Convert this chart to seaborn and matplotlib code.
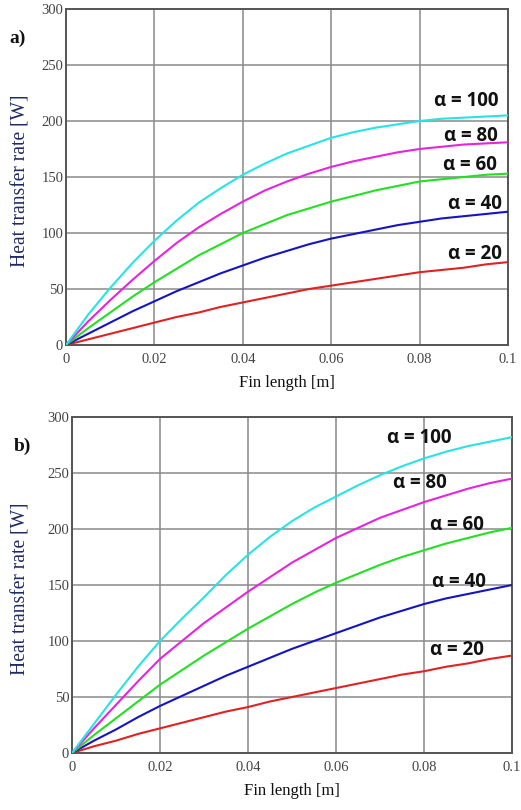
import matplotlib
matplotlib.use("Agg")
import matplotlib.pyplot as plt
import seaborn as sns
import pandas as pd

# ---- data ----
fin_length = [0.0, 0.005, 0.01, 0.015, 0.02, 0.025, 0.03, 0.035, 0.04, 0.045, 0.05,
              0.055, 0.06, 0.065, 0.07, 0.075, 0.08, 0.085, 0.09, 0.095, 0.10]
alphas = [100, 80, 60, 40, 20]

# panel a)
a_q100 = [0, 27, 51, 73, 93, 111, 127, 140, 152, 162, 171, 178, 185, 190, 194, 197, 200, 202, 203, 204, 205]
a_q80 = [0, 21, 40, 58, 75, 91, 105, 117, 128, 138, 146, 153, 159, 164, 168, 172, 175, 177, 179, 180, 181]
a_q60 = [0, 15, 29, 43, 56, 68, 80, 90, 100, 108, 116, 122, 128, 133, 138, 142, 146, 148, 150, 152, 153]
a_q40 = [0, 10, 20, 30, 39, 48, 56, 64, 71, 78, 84, 90, 95, 99, 103, 107, 110, 113, 115, 117, 119]
a_q20 = [0, 5, 10, 15, 20, 25, 29, 34, 38, 42, 46, 50, 53, 56, 59, 62, 65, 67, 69, 72, 74]

# panel b)
b_q100 = [0, 26, 52, 77, 100, 120, 139, 159, 177, 193, 207, 219, 229, 239, 248, 256, 263, 269, 274, 278, 282]
b_q80 = [0, 22, 43, 64, 84, 100, 116, 130, 144, 157, 170, 181, 192, 201, 210, 217, 224, 230, 236, 241, 245]
b_q60 = [0, 16, 31, 46, 61, 74, 87, 99, 111, 122, 133, 143, 152, 160, 168, 175, 181, 187, 192, 197, 201]
b_q40 = [0, 11, 21, 32, 42, 51, 60, 69, 77, 85, 93, 100, 107, 114, 121, 127, 133, 138, 142, 146, 150]
b_q20 = [0, 6, 11, 17, 22, 27, 32, 37, 41, 46, 50, 54, 58, 62, 66, 70, 73, 77, 80, 84, 87]

x_ticks = [0, 0.02, 0.04, 0.06, 0.08, 0.1]
x_tick_labels = ["0", "0.02", "0.04", "0.06", "0.08", "0.1"]
y_ticks = [0, 50, 100, 150, 200, 250, 300]
y_tick_labels = ["0", "50", "100", "150", "200", "250", "300"]

colors = {100: "#27e4e4", 80: "#e624e0", 60: "#22e022", 40: "#1414c4", 20: "#e02222"}

# label positions (x in m, y in W)
a_label_pos = {100: (0.0905, 218), 80: (0.0915, 187), 60: (0.0915, 161), 40: (0.0925, 126), 20: (0.0925, 81)}
b_label_pos = {100: (0.079, 281), 80: (0.079, 241), 60: (0.0875, 204), 40: (0.088, 153), 20: (0.0875, 92)}

sns.set_theme(style="white")
plt.rcParams["font.family"] = ["Liberation Serif", "DejaVu Serif"]

fig = plt.figure(figsize=(5.21, 8.10), dpi=100)
ax_a = fig.add_axes([66 / 521, 1 - 345 / 810, (508 - 66) / 521, (345 - 9) / 810])
ax_b = fig.add_axes([72 / 521, 1 - 753 / 810, (512 - 72) / 521, (753 - 417) / 810])

panels = [
    (ax_a, [a_q100, a_q80, a_q60, a_q40, a_q20], a_label_pos, "a)", (18 / 521, 1 - 38 / 810), -0.081),
    (ax_b, [b_q100, b_q80, b_q60, b_q40, b_q20], b_label_pos, "b)", (22 / 521, 1 - 446 / 810), -0.095),
]

for ax, series, lpos, tag, tagpos, ylx in panels:
    rows = []
    for al, vals in zip(alphas, series):
        for xv, yv in zip(fin_length, vals):
            rows.append({"L": xv, "Q": yv, "alpha": al})
    df = pd.DataFrame(rows)
    sns.lineplot(data=df, x="L", y="Q", hue="alpha", palette=colors,
                 linewidth=1.5, legend=False, ax=ax, zorder=3)
    ax.set_xlim(0, 0.1)
    ax.set_ylim(0, 300)
    ax.set_xticks(x_ticks)
    ax.set_xticklabels(x_tick_labels)
    ax.set_yticks(y_ticks)
    ax.set_yticklabels(y_tick_labels)
    ax.grid(True, color="#8a8a8a", linewidth=1.1)
    ax.set_axisbelow(True)
    for sp in ax.spines.values():
        sp.set_color("#555555")
        sp.set_linewidth(1.4)
    ax.tick_params(axis="both", length=0, pad=2, labelsize=10.5, labelcolor="#444444")
    ax.tick_params(axis="x", pad=6)
    ax.set_xlabel("Fin length [m]", fontsize=12, color="#111111", labelpad=6)
    ax.set_ylabel("Heat transfer rate [W]", fontsize=14.1, color="#1f2a66")
    ax.yaxis.set_label_coords(ylx, 0.488)
    for al in alphas:
        tx, ty = lpos[al]
        ax.text(tx, ty, f"\u03b1 = {al}", ha="center", va="center", fontsize=13.5,
                fontweight="bold", color="#111111",
                family=["Open Sans", "DejaVu Sans"], zorder=4)
    fig.text(tagpos[0], tagpos[1], tag, ha="center", va="center", fontsize=14,
             fontweight="bold", color="#111111")

fig.savefig("out.png", dpi=100, facecolor="white")
